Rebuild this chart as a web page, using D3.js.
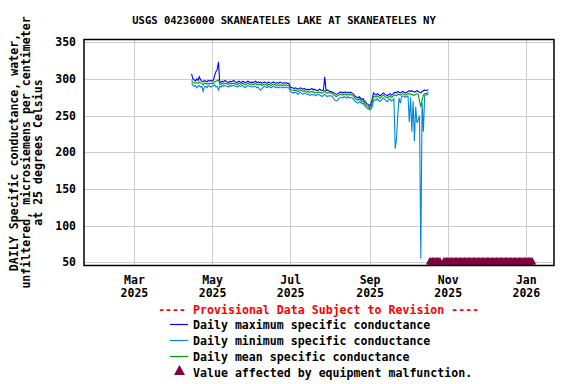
<!DOCTYPE html>
<html><head><meta charset="utf-8">
<script src="https://cdn.jsdelivr.net/npm/d3@7"></script>
<style>
html,body{margin:0;padding:0;background:#fff;}
svg{display:block;}
text{font-family:"DejaVu Sans Mono",monospace;font-weight:bold;fill:#000;}
</style></head>
<body>
<script>
// ---------------- DATA ----------------
const title = "USGS 04236000 SKANEATELES LAKE AT SKANEATELES NY";
const yLabelLines = ["DAILY Specific conductance, water,", "unfiltered, microsiemens per centimeter", "at 25 degrees Celsius"];
const firstDay = "2025-04-15";           // first daily value
// daily maximum, Apr 15 .. Oct 17 2025
const maxVals = [
 // Apr 15-30
 307,300,299,297,300,298,303,299,297,296,298,297,296,298,297,298,
 // May
 297,298,305,310,313,323,295,296,297,296,298,297,296,295,297,296,297,298,296,295,296,297,296,295,297,296,295,296,297,296,295,
 // Jun
 296,295,296,297,295,296,295,296,294,295,296,295,294,296,295,294,295,296,295,294,295,294,296,295,294,295,294,295,294,294,
 // Jul
 289,288,288,287,288,287,286,287,288,287,286,287,286,285,286,285,286,287,285,286,285,284,285,286,285,284,285,303,284,285,284,
 // Aug
 283,283,282,281,280,279,280,281,282,282,281,282,282,281,282,281,282,281,280,278,276,275,274,276,274,272,273,270,268,266,265,
 // Sep
 263,266,272,281,279,278,280,279,277,278,280,281,279,278,277,279,280,278,279,281,282,281,283,282,281,282,283,282,281,282,
 // Oct 1-17
 283,284,283,284,283,282,283,284,283,282,281,283,284,285,284,285,285
];
// daily minimum
const minVals = [
 // Apr 15-30
 295,292,290,291,288,290,291,289,290,283,289,290,288,291,290,289,
 // May
 290,291,292,289,290,285,290,289,291,290,291,290,290,289,291,290,291,291,290,290,289,291,290,290,291,289,288,290,291,290,290,
 // Jun
 289,289,290,290,288,289,286,285,287,289,290,289,288,290,289,288,289,290,289,288,289,288,289,289,288,289,288,289,288,288,
 // Jul
 283,282,281,281,282,281,279,281,282,280,279,281,280,279,280,278,278,279,278,279,277,278,279,278,277,276,278,279,277,276,277,
 // Aug
 277,277,276,273,271,270,271,273,275,275,274,276,275,274,276,274,275,274,273,271,269,268,267,269,268,266,267,264,262,260,259,
 // Sep
 258,259,262,270,272,271,273,271,269,271,273,274,272,270,269,272,273,270,271,273,205,218,250,274,267,276,277,276,275,276,
 // Oct 1-17
 277,241,275,228,270,215,262,240,244,250,55,268,228,277,278,279,279
];
// daily mean
const meanVals = [
 // Apr 15-30
 298,296,295,294,295,294,296,295,294,292,294,294,293,294,293,294,
 // May
 294,294,296,297,298,299,293,293,294,293,294,294,293,293,294,293,294,294,293,293,293,294,293,293,294,293,292,293,294,293,293,
 // Jun
 293,292,293,294,292,293,292,293,291,292,293,292,291,293,292,291,292,293,292,291,292,291,292,292,291,292,291,292,291,291,
 // Jul
 286,285,285,284,285,284,283,284,285,284,283,284,283,282,283,282,282,283,282,282,281,281,282,282,281,281,282,284,281,281,281,
 // Aug
 281,281,280,278,277,276,277,278,279,279,278,279,279,278,279,278,279,278,277,275,273,272,271,273,271,269,270,267,265,263,262,
 // Sep
 260,262,267,276,276,275,277,276,274,275,277,278,276,275,274,276,277,275,276,278,278,277,279,279,278,279,280,279,278,279,
 // Oct 1-17
 280,280,279,279,278,278,279,280,279,270,262,271,278,280,280,281,281
];
// days flagged "equipment malfunction" (inclusive ranges), plotted at the axis floor value
const malfunctionRanges = [["2025-10-18","2025-10-26"],["2025-10-29","2026-01-06"]];
const malfunctionValue = 50;
const yTicks = [50,100,150,200,250,300,350];
const xTickDates = ["2025-03-01","2025-05-01","2025-07-01","2025-09-01","2025-11-01","2026-01-01"];
const xTickMonths = ["Mar","May","Jul","Sep","Nov","Jan"];
const xTickYears = ["2025","2025","2025","2025","2025","2026"];
const legendTitle = "---- Provisional Data Subject to Revision ----";
const legendItems = ["Daily maximum specific conductance","Daily minimum specific conductance","Daily mean specific conductance","Value affected by equipment malfunction."];

// ---------------- CHART ----------------
const W = 576, H = 384;
const L = 84, R = 554, T = 39.5, B = 265.5;
const colMax = "#0000ff", colMin = "#0088dd", colMean = "#00a000", colFlag = "#800040";
const parse = d3.timeParse("%Y-%m-%d");

const svg = d3.select("body").append("svg").attr("width", W).attr("height", H);

const x = d3.scaleTime().domain([new Date(2025,0,21), new Date(2026,0,23)]).range([L, R]);
const y = d3.scaleLinear().domain([50,350]).range([262.3, 42.3]);

// grid
const grid = svg.append("g").attr("stroke","#cccccc").attr("stroke-width",1).attr("shape-rendering","crispEdges");
grid.selectAll("line.h").data(yTicks).join("line").attr("class","h")
  .attr("x1",L).attr("x2",R).attr("y1",d=>Math.round(y(d))+0.5).attr("y2",d=>Math.round(y(d))+0.5);
grid.selectAll("line.v").data(xTickDates.map(parse)).join("line").attr("class","v")
  .attr("y1",T).attr("y2",B).attr("x1",d=>Math.round(x(d))+0.5).attr("x2",d=>Math.round(x(d))+0.5);

// clip
svg.append("clipPath").attr("id","clip").append("rect").attr("x",L).attr("y",T).attr("width",R-L).attr("height",B-T);

const start = parse(firstDay);
const mk = arr => arr.map((v,i)=>({date:d3.timeDay.offset(start,i), v}));
const line = d3.line().x(d=>x(d.date)).y(d=>y(d.v));
const plot = svg.append("g").attr("clip-path","url(#clip)");
[[maxVals,colMax],[minVals,colMin],[meanVals,colMean]].forEach(([arr,c])=>{
  plot.append("path").datum(mk(arr)).attr("d",line).attr("fill","none").attr("stroke",c).attr("stroke-width",1.1);
});

// malfunction markers
const flagDates = malfunctionRanges.flatMap(([a,b])=>d3.timeDay.range(parse(a), d3.timeDay.offset(parse(b),1)));
const tri = (w,h)=>`M0,${-h*0.6}L${w/2},${h*0.4}L${-w/2},${h*0.4}Z`;
plot.selectAll("path.flag").data(flagDates).join("path").attr("class","flag")
  .attr("d",tri(8,7.6)).attr("fill",colFlag)
  .attr("transform",d=>`translate(${x(d)},${y(malfunctionValue)-0.8})`);

// frame
svg.append("rect").attr("x",L).attr("y",T).attr("width",R-L).attr("height",B-T)
  .attr("fill","none").attr("stroke","#000").attr("stroke-width",1.5);

// y axis
const gy = svg.append("g").attr("transform",`translate(${L},0)`)
  .call(d3.axisLeft(y).tickValues(yTicks).tickSize(0).tickPadding(8));
gy.select(".domain").remove();
gy.selectAll("text").attr("font-family","DejaVu Sans Mono").attr("font-weight","bold").attr("font-size","11.5px").attr("fill","#000");

// x axis
const gx = svg.append("g").attr("transform",`translate(0,${B})`)
  .call(d3.axisBottom(x).tickValues(xTickDates.map(parse)).tickSize(0).tickFormat(""));
gx.select(".domain").remove();
gx.selectAll(".tick text").each(function(d,i){
  const t = d3.select(this).attr("y",null).attr("dy",null)
    .attr("font-family","DejaVu Sans Mono").attr("font-weight","bold").attr("font-size","11.5px").attr("fill","#000");
  t.append("tspan").attr("x",0).attr("y",18).text(xTickMonths[i]);
  t.append("tspan").attr("x",0).attr("y",31.5).text(xTickYears[i]);
});

// title
svg.append("text").attr("x",(L+R)/2-35).attr("y",24).attr("text-anchor","middle")
  .attr("font-size","10.5px").text(title);

// y label
const yl = svg.append("text").attr("transform",`translate(0,${(T+B)/2}) rotate(-90)`).attr("text-anchor","middle").attr("font-size","11.6px");
yLabelLines.forEach((s,i)=>yl.append("tspan").attr("x",0).attr("y",18+i*12).text(s));

// legend
svg.append("text").attr("x",318.7).attr("y",314).attr("text-anchor","middle").attr("font-size","11.6px").style("fill","#ff0000").text(legendTitle);
const lg = svg.append("g");
const legCols = [colMax,colMin,colMean];
legendItems.forEach((s,i)=>{
  const yy = 329 + i*16;
  if (i<3) lg.append("line").attr("x1",170).attr("x2",188).attr("y1",yy-4.5).attr("y2",yy-4.5).attr("stroke",legCols[i]).attr("stroke-width",1.2);
  else lg.append("path").attr("d",tri(11,10)).attr("fill",colFlag).attr("transform",`translate(179.5,${yy-6})`);
  lg.append("text").attr("x",193).attr("y",yy).attr("font-size","11.6px").text(s);
});
</script>
</body></html>
